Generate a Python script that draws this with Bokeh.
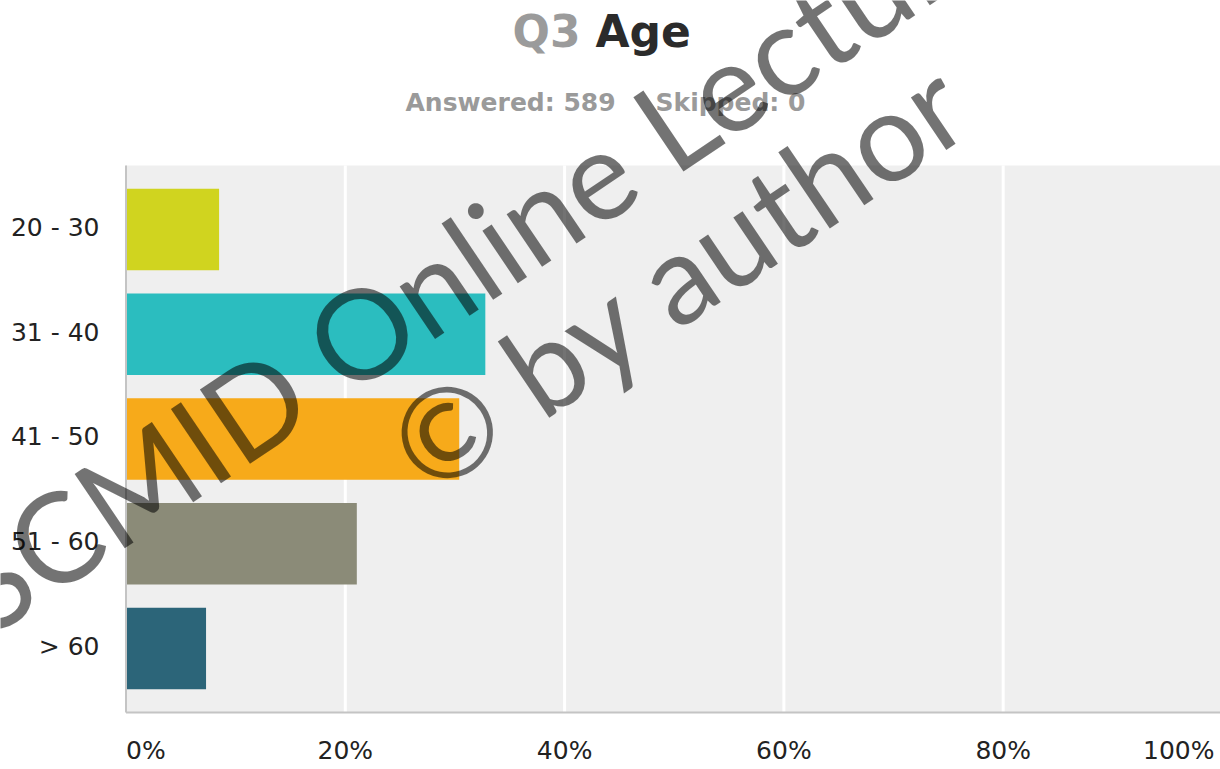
import math
from bokeh.plotting import figure
from bokeh.models import Range1d, ColumnDataSource
from bokeh.core.properties import value
from bokeh.embed import file_html
from bokeh.resources import INLINE

# ---- data ----
categories = ["20 - 30", "31 - 40", "41 - 50", "51 - 60", "> 60"]
percent = [8.49, 32.77, 30.39, 21.05, 7.30]
bar_colors = ["#d0d41f", "#2bbdbf", "#f7aa1a", "#8b8b78", "#2c6579"]
x_ticks = [0, 20, 40, 60, 80, 100]
x_tick_labels = ["0%", "20%", "40%", "60%", "80%", "100%"]
question_no = "Q3"
question = "Age"
answered = 589
skipped = 0
watermark_1 = "SCMID Online Lecture"
watermark_2 = "\u00a9 by author"

# ---- layout (pixel geometry of the canvas) ----
W, H = 1220, 769
X0_PX, PX_PER_PCT = 125.5, 10.965      # x = 0 % and scale
Y0_PX, PX_PER_CAT = 229.0, 104.75      # centre of first category and spacing
PAD = 0.11                              # plot-area padding in category units
FONT = value("DejaVu Sans")


def xd(px):
    return (px - X0_PX) / PX_PER_PCT


def yd(py):
    return (py - Y0_PX) / PX_PER_CAT


p = figure(width=W, height=H,
           x_range=Range1d(xd(0), xd(W)),
           y_range=Range1d(yd(H), yd(0)),   # flipped: first category on top
           output_backend="svg", toolbar_location=None,
           min_border=0)
p.axis.visible = False
p.grid.visible = False
p.outline_line_color = None
p.background_fill_color = "white"
p.border_fill_color = "white"

n = len(categories)
y_idx = list(range(n))
area_top = -0.5 - PAD
area_bottom = n - 0.5 + PAD
x_max = x_ticks[-1]

# plot area background
p.quad(left=[0], right=[x_max], top=[area_top], bottom=[area_bottom],
       fill_color="#efefef", line_color=None)

# vertical grid lines
grid_x = x_ticks[1:-1]
p.segment(x0=grid_x, x1=grid_x, y0=[area_top] * len(grid_x),
          y1=[area_bottom] * len(grid_x), line_color="white", line_width=3)

# bars
src = ColumnDataSource(dict(y=y_idx, pct=percent, color=bar_colors, cat=categories))
p.hbar(y="y", left=0, right="pct", height=0.78, fill_color="color",
       line_color=None, source=src)

# axis lines
p.segment(x0=[0], x1=[0], y0=[area_top], y1=[area_bottom],
          line_color="#c4c4c4", line_width=2)
p.segment(x0=[0], x1=[x_max], y0=[area_bottom], y1=[area_bottom],
          line_color="#c4c4c4", line_width=2)

# y tick labels
p.text(x=[xd(99)] * n, y=[i - 0.02 for i in y_idx], text=categories,
       text_align="right", text_baseline="middle", text_font=FONT,
       text_font_size="25px", text_color="#222222")

# x tick labels (outer labels justified inside the chart)
aligns = ["left"] + ["center"] * (len(x_ticks) - 2) + ["right"]
lab_x = list(x_ticks)
lab_x[-1] = min(x_ticks[-1], xd(W - 6))
p.text(x=lab_x, y=[yd(750)] * len(x_ticks), text=x_tick_labels,
       text_align=aligns, text_baseline="middle", text_font=FONT,
       text_font_size="25px", text_color="#222222")

# title and subtitle
p.text(x=[xd(580)], y=[yd(31)], text=[question_no], text_align="right",
       text_baseline="middle", text_font=FONT, text_font_style="bold",
       text_font_size="44px", text_color="#9b9b9b")
p.text(x=[xd(595)], y=[yd(31)], text=[question], text_align="left",
       text_baseline="middle", text_font=FONT, text_font_style="bold",
       text_font_size="44px", text_color="#2b2b2b")
p.text(x=[xd(405)], y=[yd(102)], text=[f"Answered: {answered}"],
       text_align="left", text_baseline="middle", text_font=FONT,
       text_font_style="bold", text_font_size="25px", text_color="#9a9a9a")
p.text(x=[xd(655)], y=[yd(102)], text=[f"Skipped: {skipped}"],
       text_align="left", text_baseline="middle", text_font=FONT,
       text_font_style="bold", text_font_size="25px", text_color="#9a9a9a")

# watermark
ang = math.radians(34)
p.text(x=[xd(474)], y=[yd(254)], text=[watermark_1], angle=ang,
       text_align="center", text_baseline="middle", text_font=value("Lato"),
       text_font_size="125px", text_color="black", text_alpha=0.55)
p.text(x=[xd(677)], y=[yd(273)], text=[watermark_2], angle=ang,
       text_align="center", text_baseline="middle", text_font=value("Lato"),
       text_font_size="125px", text_color="black", text_alpha=0.55)

open("out.html", "w").write(file_html(p, INLINE))
